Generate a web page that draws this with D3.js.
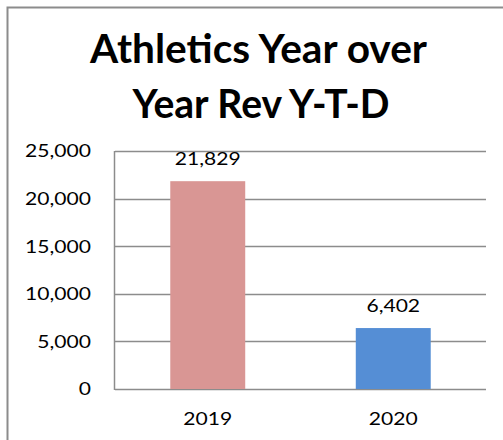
<!DOCTYPE html>
<html>
<head>
<meta charset="utf-8">
<script src="https://cdn.jsdelivr.net/npm/d3@7"></script>
<style>
  body { margin: 0; background: #fff; }
  text { font-family: Lato, "Open Sans", sans-serif; fill: #000; }
</style>
</head>
<body>
<svg id="chart" width="503" height="440"></svg>
<script>
var categories = ["2019", "2020"];
var revenue = [21829, 6402];
var barColors = ["#d99694", "#558ed5"];
var yTicks = [0, 5000, 10000, 15000, 20000, 25000];
var titleLines = ["Athletics Year over", "Year Rev Y-T-D"];

var svg = d3.select("#chart");
var fmt = d3.format(",");

// the source font is wider than Lato, stretch the glyphs a bit
function widen(sel, k) {
  sel.each(function(){
    var w = this.getComputedTextLength();
    d3.select(this).attr("textLength", w * k).attr("lengthAdjust", "spacingAndGlyphs");
  });
}

// outer frame (only left and top edges show in the crop)
svg.append("path")
  .attr("d", "M7.5,440V7.5H503")
  .attr("fill", "none")
  .attr("stroke", "#8c8c8c")
  .attr("stroke-width", 2);

var x = d3.scaleBand().domain(categories).range([115, 486])
  .paddingInner(0.596).paddingOuter(0.298);
var y = d3.scaleLinear().domain([0, 25000]).range([389, 151]);

// gridlines
svg.append("g").selectAll("line").data(yTicks).enter().append("line")
  .attr("x1", 115).attr("x2", 486)
  .attr("y1", function(d){ return Math.round(y(d)) + 0.5; })
  .attr("y2", function(d){ return Math.round(y(d)) + 0.5; })
  .attr("stroke", "#8c8c8c").attr("stroke-width", 1.5);

// y axis line
svg.append("line")
  .attr("x1", 114.5).attr("x2", 114.5).attr("y1", y(25000)).attr("y2", y(0) + 1)
  .attr("stroke", "#8c8c8c").attr("stroke-width", 1.5);

// tick labels
svg.append("g").selectAll("text").data(yTicks).enter().append("text")
  .attr("x", 91).attr("y", function(d){ return y(d); })
  .attr("dy", "0.36em")
  .attr("text-anchor", "end")
  .style("font-size", "18px")
  .text(function(d){ return fmt(d); })
  .call(widen, 1.17);

// bars
svg.append("g").selectAll("rect").data(revenue).enter().append("rect")
  .attr("x", function(d, i){ return x(categories[i]); })
  .attr("y", function(d){ return y(d); })
  .attr("width", x.bandwidth())
  .attr("height", function(d){ return y(0) - y(d); })
  .attr("fill", function(d, i){ return barColors[i]; });

// data labels
svg.append("g").selectAll("text").data(revenue).enter().append("text")
  .attr("x", function(d, i){ return x(categories[i]) + x.bandwidth() / 2; })
  .attr("y", function(d){ return y(d) - 16; })
  .attr("text-anchor", "middle")
  .style("font-size", "18px")
  .text(function(d){ return fmt(d); })
  .call(widen, 1.17);

// category labels
svg.append("g").selectAll("text").data(categories).enter().append("text")
  .attr("x", function(d){ return x(d) + x.bandwidth() / 2; })
  .attr("y", 425)
  .attr("text-anchor", "middle")
  .style("font-size", "18px")
  .text(function(d){ return d; })
  .call(widen, 1.17);

// title
svg.append("g").selectAll("text").data(titleLines).enter().append("text")
  .attr("x", function(d, i){ return i ? 261 : 258.5; })
  .attr("y", function(d, i){ return 63 + i * 55; })
  .attr("text-anchor", "middle")
  .style("font-size", "40px")
  .style("font-weight", "bold")
  .text(function(d){ return d; })
  .attr("textLength", function(d, i){ return i ? 257 : 337; })
  .attr("lengthAdjust", "spacingAndGlyphs");
</script>
</body>
</html>
